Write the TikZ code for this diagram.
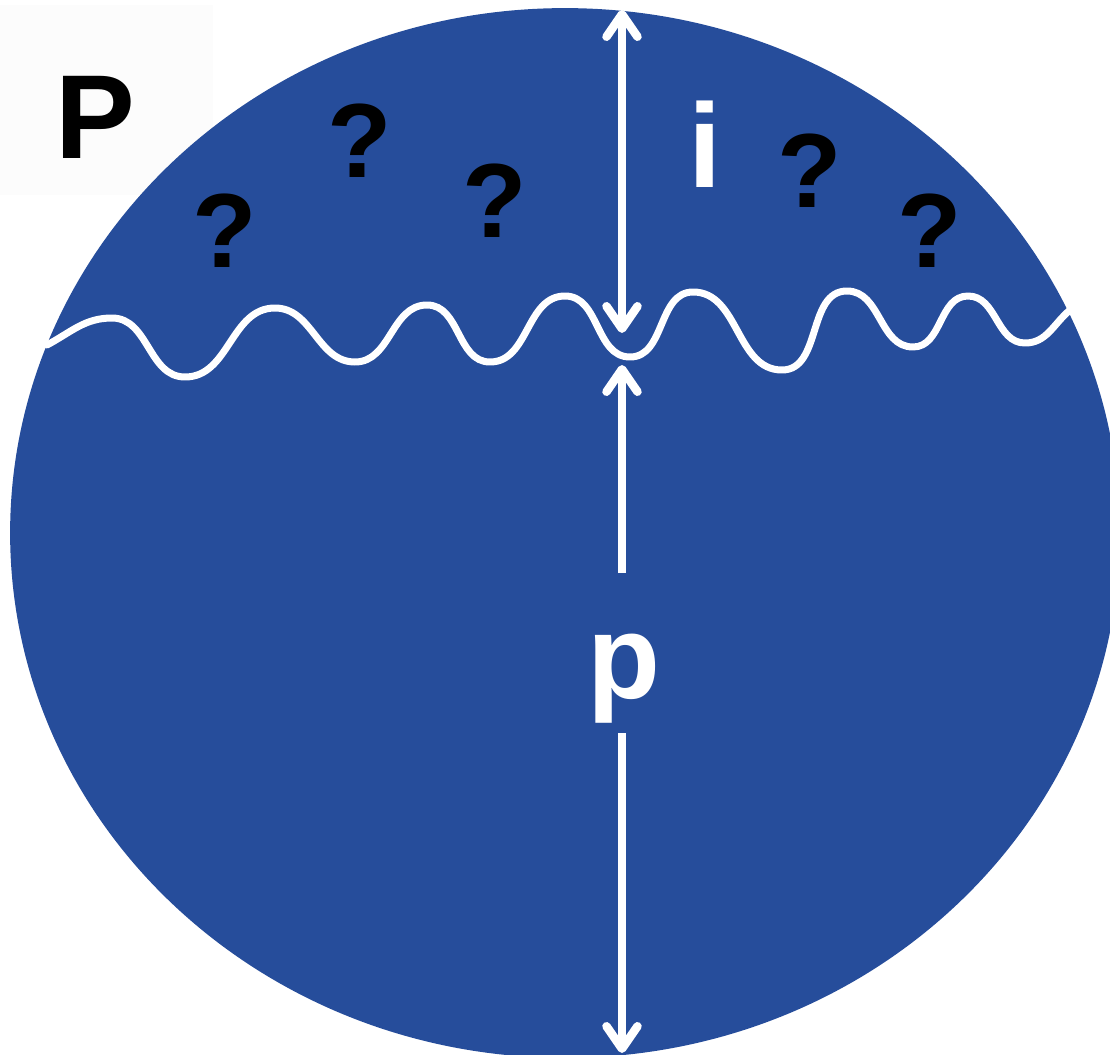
\documentclass[tikz,border=0pt]{standalone}
\usepackage{fontspec}
\setmainfont{Liberation Sans}
\usepackage{tikz}
\usetikzlibrary{arrows.meta}
\definecolor{myblue}{RGB}{38,77,155}
\definecolor{myoffwhite}{RGB}{252,252,252}
\tikzset{
  qmark/.style={font=\fontsize{60}{60}\selectfont\bfseries, text=black,
    inner sep=0pt, anchor=base},
  bigletter/.style={font=\fontsize{68}{68}\selectfont\bfseries,
    inner sep=0pt, anchor=base},
  whitearrow/.style={line width=0.17cm, color=white,
    >={Straight Barb[round, length=0.45cm, width=0.62cm]}},
  wave/.style={line width=0.14cm, color=white, line cap=round, line join=round}
}

\begin{document}
\begin{tikzpicture}[x=0.02cm, y=-0.02cm]
  \useasboundingbox (0,0) rectangle (1110,1055);
  \clip (0,0) rectangle (1110,1055);

  % Label box and disc
  \fill[myoffwhite] (0,5) rectangle (213,195);
  \fill[myblue] (565,533) ellipse [x radius=11.1cm, y radius=10.5cm];

  % Wavy boundary
  \draw[wave, out=0, in=180] (47,345) to[out=28] (112,318) to (185,377)
    to (275,308) to (355,362) to (427,305) to (490,362) to (565,296)
    to (630,357) to (693,292) to (782,370) to (847,291) to (913,347)
    to (968,296) to (1025,343) to[in=220] (1070,310);

  % Arrow end points
  \coordinate (topTip) at (622,10);
  \coordinate (downTip) at (622,333);
  \coordinate (upTip) at (622,365);
  \coordinate (gapTop) at (622,573);
  \coordinate (gapBot) at (622,733);
  \coordinate (botTip) at (622,1053);

  % Arrows
  \draw[whitearrow, <->] (topTip) -- (downTip);
  \draw[whitearrow, ->] (gapTop) -- (upTip);
  \draw[whitearrow, ->] (gapBot) -- (botTip);

  % Letters
  \node[bigletter, text=black] (labelP) at (95,158) {P};
  \node[bigletter, text=white] (labeli) at (705,187) {i};
  \node[bigletter, text=white] (labelp) at (624,698) {p};

  % Question marks
  \node[qmark] (qm1) at (225,267) {?};
  \node[qmark] (qm2) at (360,177) {?};
  \node[qmark] (qm3) at (495,237) {?};
  \node[qmark] (qm4) at (810,207) {?};
  \node[qmark] (qm5) at (930,267) {?};
\end{tikzpicture}
\end{document}
